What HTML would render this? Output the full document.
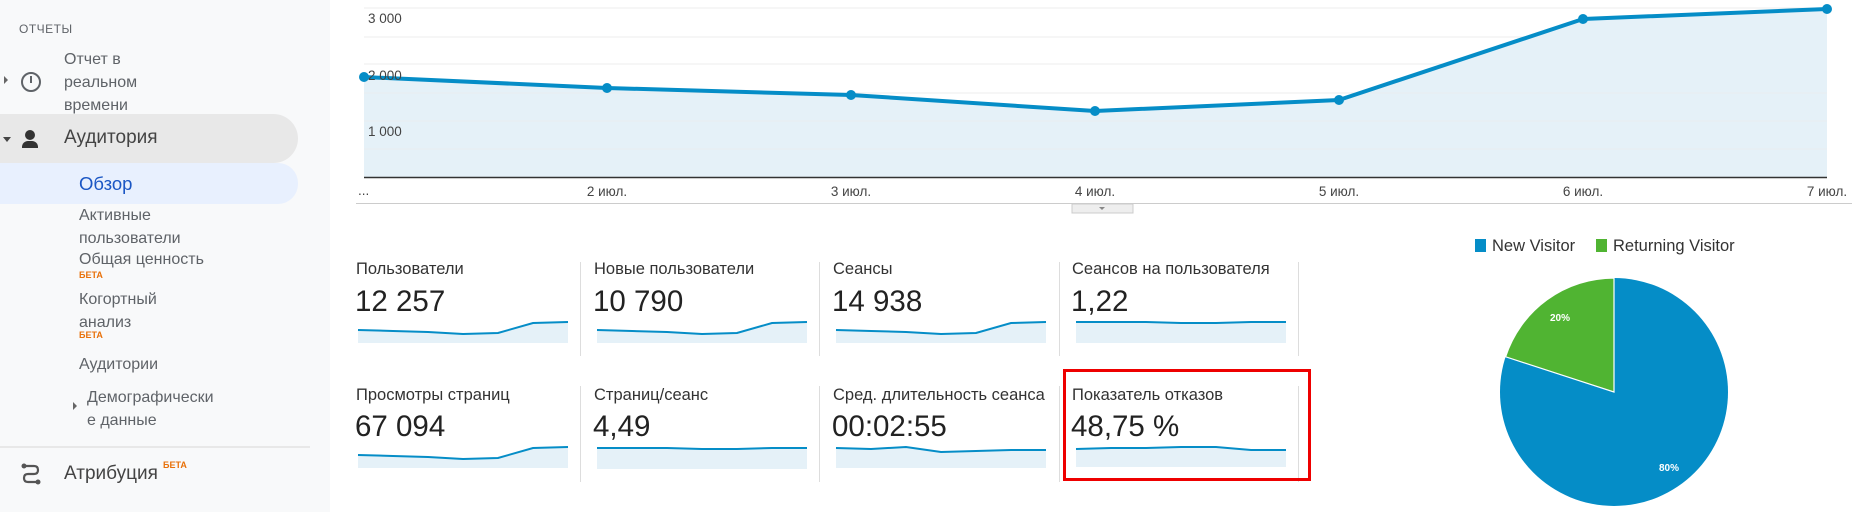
<!DOCTYPE html>
<html><head><meta charset="utf-8"><style>
*{margin:0;padding:0;box-sizing:border-box}
body{width:1876px;height:512px;background:#fff;position:relative;overflow:hidden;font-family:"Liberation Sans","DejaVu Sans",sans-serif;color:#333}
.a{position:absolute;white-space:nowrap}
#sb{position:absolute;left:0;top:0;width:330px;height:512px;background:#f8f9fa}
.sbt{font-size:16px;color:#5f6368}
.beta{font-size:9px;color:#e8710a;font-weight:bold}
.mt{font-size:16.5px;color:#333}
.mv{font-size:29.5px;color:#222}
.dv{position:absolute;width:1px;background:#ddd}
</style></head><body>
<div id="sb">
<div class="a" style="left:19px;top:22px;font-size:12px;color:#5f6368;letter-spacing:.5px">ОТЧЕТЫ</div>
<div class="a sbt" style="left:64px;top:48px;line-height:23px">Отчет в<br>реальном<br>времени</div>
<div class="a" style="left:4px;top:76px;width:0;height:0;border-left:4px solid #666;border-top:4px solid transparent;border-bottom:4px solid transparent"></div>
<div class="a" style="left:21px;top:72px;width:20px;height:20px;border:2px solid #5f6368;border-radius:50%"></div>
<div class="a" style="left:30px;top:76px;width:2px;height:7px;background:#5f6368"></div>
<div class="a" style="left:0;top:114px;width:298px;height:49px;background:#e8e8e8;border-radius:0 25px 25px 0"></div>
<div class="a" style="left:3px;top:137px;border-top:5px solid #444;border-left:4px solid transparent;border-right:4px solid transparent"></div>
<div class="a" style="left:25px;top:130px;width:10px;height:10px;background:#333;border-radius:50%"></div>
<div class="a" style="left:22px;top:141px;width:16px;height:7px;background:#333;border-radius:6px 6px 0 0"></div>
<div class="a sbt" style="left:64px;top:127px;font-size:19px;color:#444">Аудитория</div>
<div class="a" style="left:0;top:163px;width:298px;height:41px;background:#e8f0fe;border-radius:0 20px 20px 0"></div>
<div class="a sbt" style="left:79px;top:173px;color:#1a56c4;font-size:18.5px">Обзор</div>
<div class="a sbt" style="left:79px;top:204px;line-height:23px">Активные<br>пользователи</div>
<div class="a sbt" style="left:79px;top:251px">Общая ценность</div>
<div class="a beta" style="left:79px;top:270px">БЕТА</div>
<div class="a sbt" style="left:79px;top:288px;line-height:23px">Когортный<br>анализ</div>
<div class="a beta" style="left:79px;top:330px">БЕТА</div>
<div class="a sbt" style="left:79px;top:356px">Аудитории</div>
<div class="a" style="left:73px;top:402px;border-left:4px solid #666;border-top:4px solid transparent;border-bottom:4px solid transparent"></div>
<div class="a sbt" style="left:87px;top:386px;line-height:23px">Демографически<br>е данные</div>
<div class="a" style="left:0;top:446px;width:310px;height:2px;background:#e8e8e8"></div>
<svg class="a" style="left:20px;top:462px" width="22" height="24"><path d="M4 4 H14 Q18 4 18 8 Q18 12 14 12 H8 Q4 12 4 16 Q4 20 8 20 H18" fill="none" stroke="#555" stroke-width="2.2"/><circle cx="4" cy="4" r="2.5" fill="#555"/><circle cx="18" cy="20" r="2.5" fill="#555"/></svg>
<div class="a sbt" style="left:64px;top:463px;font-size:19px;color:#444">Атрибуция</div>
<div class="a beta" style="left:163px;top:460px">БЕТА</div>
</div>

<svg class="a" style="left:0;top:0" width="1876" height="230">
<g stroke="#ececec" stroke-width="1">
<line x1="364" y1="8" x2="1827" y2="8"/><line x1="364" y1="37" x2="1827" y2="37"/><line x1="364" y1="64" x2="1827" y2="64"/><line x1="364" y1="93" x2="1827" y2="93"/><line x1="364" y1="121" x2="1827" y2="121"/><line x1="364" y1="149" x2="1827" y2="149"/>
</g>
<polygon points="364,77 607,88 851,95 1095,111 1339,100 1583,19 1827,9 1827,177 364,177" fill="#e5f1f8"/>
<g stroke="#ececec" stroke-width="1" opacity=".6"><line x1="364" y1="121" x2="1827" y2="121"/><line x1="364" y1="149" x2="1827" y2="149"/><line x1="364" y1="93" x2="1827" y2="93"/></g>
<polyline points="364,77 607,88 851,95 1095,111 1339,100 1583,19 1827,9" fill="none" stroke="#058dc7" stroke-width="4" stroke-linejoin="round"/>
<g fill="#058dc7"><circle cx="364" cy="77" r="5"/><circle cx="607" cy="88" r="5"/><circle cx="851" cy="95" r="5"/><circle cx="1095" cy="111" r="5"/><circle cx="1339" cy="100" r="5"/><circle cx="1583" cy="19" r="5"/><circle cx="1827" cy="9" r="5"/></g>
<line x1="364" y1="177.5" x2="1827" y2="177.5" stroke="#333" stroke-width="1.5"/>
<line x1="356" y1="203.5" x2="1852" y2="203.5" stroke="#ccc"/>
<g font-size="13.5" fill="#444" font-family="Liberation Sans,sans-serif">
<text x="368" y="23">3 000</text><text x="368" y="80">2 000</text><text x="368" y="136">1 000</text>
<text x="358" y="195">...</text>
<g text-anchor="middle"><text x="607" y="196">2 июл.</text><text x="851" y="196">3 июл.</text><text x="1095" y="196">4 июл.</text><text x="1339" y="196">5 июл.</text><text x="1583" y="196">6 июл.</text><text x="1827" y="196">7 июл.</text></g>
</g>
<rect x="1072" y="204" width="61" height="9" fill="#eee" stroke="#ccc"/>
<polygon points="1099,207 1105,207 1102,210" fill="#888"/>
</svg>

<div class="dv" style="left:580px;top:262px;height:94px"></div><div class="dv" style="left:819px;top:262px;height:94px"></div><div class="dv" style="left:1059px;top:262px;height:94px"></div><div class="dv" style="left:1298px;top:262px;height:94px"></div>
<div class="dv" style="left:580px;top:386px;height:96px"></div><div class="dv" style="left:819px;top:386px;height:96px"></div><div class="dv" style="left:1059px;top:386px;height:96px"></div><div class="dv" style="left:1298px;top:386px;height:96px"></div>

<div class="a mt" style="left:356px;top:260px">Пользователи</div><div class="a mv" style="left:355px;top:285px">12 257</div>
<div class="a mt" style="left:594px;top:260px">Новые пользователи</div><div class="a mv" style="left:593px;top:285px">10 790</div>
<div class="a mt" style="left:833px;top:260px">Сеансы</div><div class="a mv" style="left:832px;top:285px">14 938</div>
<div class="a mt" style="left:1072px;top:260px">Сеансов на пользователя</div><div class="a mv" style="left:1071px;top:285px">1,22</div>
<div class="a mt" style="left:356px;top:386px">Просмотры страниц</div><div class="a mv" style="left:355px;top:410px">67 094</div>
<div class="a mt" style="left:594px;top:386px">Страниц/сеанс</div><div class="a mv" style="left:593px;top:410px">4,49</div>
<div class="a mt" style="left:833px;top:386px">Сред. длительность сеанса</div><div class="a mv" style="left:832px;top:410px">00:02:55</div>
<div class="a mt" style="left:1072px;top:386px">Показатель отказов</div><div class="a mv" style="left:1071px;top:410px">48,75 %</div>

<svg class="a" style="left:0;top:0" width="1876" height="512">
<defs>
<g id="s1"><polygon points="0,8 35,9 70,10 105,12 140,11 175,1 210,0 210,21 0,21" fill="#e5f1f8"/><polyline points="0,8 35,9 70,10 105,12 140,11 175,1 210,0" fill="none" stroke="#058dc7" stroke-width="2"/></g>
<g id="s2"><polygon points="0,0 35,0 70,0 105,1 140,1 175,0 210,0 210,21 0,21" fill="#e5f1f8"/><polyline points="0,0 35,0 70,0 105,1 140,1 175,0 210,0" fill="none" stroke="#058dc7" stroke-width="2"/></g>
<g id="s3"><polygon points="0,1 35,2 70,0 105,5 140,4 175,3 210,3 210,21 0,21" fill="#e5f1f8"/><polyline points="0,1 35,2 70,0 105,5 140,4 175,3 210,3" fill="none" stroke="#058dc7" stroke-width="2"/></g>
<g id="s4"><polygon points="0,3 35,2 70,2 105,1 140,1 175,4 210,4 210,21 0,21" fill="#e5f1f8"/><polyline points="0,3 35,2 70,2 105,1 140,1 175,4 210,4" fill="none" stroke="#058dc7" stroke-width="2"/></g>
</defs>
<use href="#s1" x="358" y="322"/><use href="#s1" x="597" y="322"/><use href="#s1" x="836" y="322"/><use href="#s2" x="1076" y="322"/>
<use href="#s1" x="358" y="447"/><use href="#s2" x="597" y="448"/><use href="#s3" x="836" y="447"/><use href="#s4" x="1076" y="446"/>
<rect x="1064.5" y="370.5" width="245" height="109" fill="none" stroke="#e00" stroke-width="3"/>
<rect x="1475" y="239" width="11" height="13" fill="#058dc7"/><rect x="1596" y="239" width="11" height="13" fill="#50b432"/>
<g font-size="16.5" fill="#333" font-family="Liberation Sans,sans-serif"><text x="1492" y="251">New Visitor</text><text x="1613" y="251">Returning Visitor</text></g>
<circle cx="1614" cy="392" r="114" fill="#058dc7"/>
<path d="M1614,392 L1614,278 A114,114 0 0 0 1505.6,356.8 Z" fill="#50b432" stroke="#fff" stroke-width="1.2"/>
<g font-size="10" fill="#fff" font-weight="bold" font-family="Liberation Sans,sans-serif" text-anchor="middle"><text x="1560" y="321">20%</text><text x="1669" y="471">80%</text></g>
</svg>
</body></html>
